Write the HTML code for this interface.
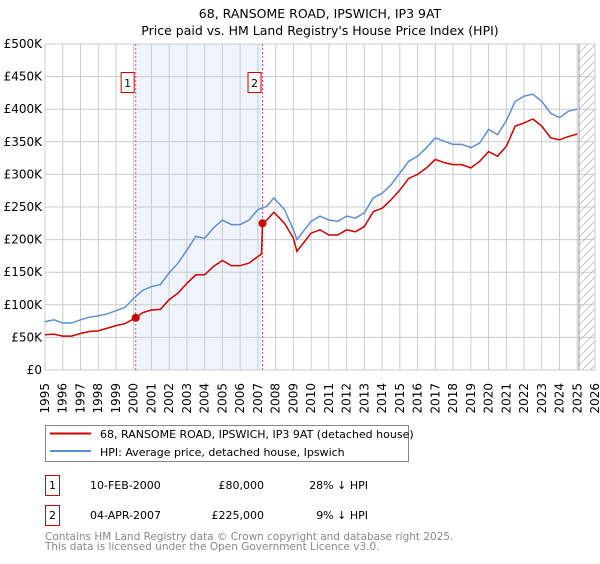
<!DOCTYPE html>
<html><head><meta charset="utf-8"><style>
body{margin:0;background:#fff;font-family:"DejaVu Sans","Liberation Sans",sans-serif;}
svg text{font-family:"DejaVu Sans","Liberation Sans",sans-serif;}
</style></head><body>
<svg id="c" width="600" height="560" xmlns="http://www.w3.org/2000/svg">
<text x="320" y="18" font-size="12.5" text-anchor="middle">68, RANSOME ROAD, IPSWICH, IP3 9AT</text>
<text x="320" y="35" font-size="12.5" text-anchor="middle">Price paid vs. HM Land Registry's House Price Index (HPI)</text>
<g id="plot"></g>
<g>
<rect x="45.5" y="425.5" width="363" height="36" fill="#fff" stroke="#888"/>
<line x1="50" y1="433.5" x2="91" y2="433.5" stroke="#cc0000" stroke-width="2"/>
<text x="100" y="438" font-size="11">68, RANSOME ROAD, IPSWICH, IP3 9AT (detached house)</text>
<line x1="50" y1="451" x2="91" y2="451" stroke="#5b8fd4" stroke-width="2"/>
<text x="100" y="456" font-size="11">HPI: Average price, detached house, Ipswich</text>
</g>
<g font-size="11">
<rect x="45.5" y="475.5" width="14" height="20" fill="#fff" stroke="#cc0000"/>
<text x="52.5" y="489" text-anchor="middle">1</text>
<text x="90" y="489">10-FEB-2000</text>
<text x="264" y="489" text-anchor="end">£80,000</text>
<text x="368" y="489" text-anchor="end">28% ↓ HPI</text>
<rect x="45.5" y="505.5" width="14" height="20" fill="#fff" stroke="#cc0000"/>
<text x="52.5" y="519" text-anchor="middle">2</text>
<text x="90" y="519">04-APR-2007</text>
<text x="264" y="519" text-anchor="end">£225,000</text>
<text x="368" y="519" text-anchor="end">9% ↓ HPI</text>
</g>
<text x="45" y="540" font-size="10.5" fill="#888">Contains HM Land Registry data © Crown copyright and database right 2025.</text>
<text x="45" y="550" font-size="10.5" fill="#888">This data is licensed under the Open Government Licence v3.0.</text>
</svg>
<script>
const hpiYears=[1995,1995.5,1996,1996.5,1997,1997.5,1998,1998.5,1999,1999.5,2000,2000.5,2001,2001.5,2002,2002.5,2003,2003.5,2004,2004.5,2005,2005.5,2006,2006.5,2007,2007.5,2007.9,2008.5,2009,2009.2,2010,2010.5,2011,2011.5,2012,2012.5,2013,2013.5,2014,2014.5,2015,2015.5,2016,2016.5,2017,2017.5,2018,2018.5,2019,2019.5,2020,2020.5,2021,2021.5,2022,2022.5,2023,2023.5,2024,2024.5,2025];
const hpiValues=[74,77,72,72,77,81,83,86,91,96,110,122,128,131,149,164,184,205,202,218,230,223,223,230,246,251,264,246,215,200,228,236,230,228,236,233,241,264,271,284,302,320,328,341,356,351,346,346,341,348,369,361,382,412,420,423,412,394,387,397,400];
const priceYears=[1995,1995.5,1996,1996.5,1997,1997.5,1998,1998.5,1999,1999.5,2000.11,2000.5,2001,2001.5,2002,2002.5,2003,2003.5,2004,2004.5,2005,2005.5,2006,2006.5,2007.2,2007.26,2007.5,2007.9,2008.5,2009,2009.2,2010,2010.5,2011,2011.5,2012,2012.5,2013,2013.5,2014,2014.5,2015,2015.5,2016,2016.5,2017,2017.5,2018,2018.5,2019,2019.5,2020,2020.5,2021,2021.5,2022,2022.5,2023,2023.5,2024,2024.5,2025];
const priceValues=[54,55,52,52,56,59,60,64,68,71,80,88,92,93,108,118,133,146,146,159,168,160,160,164,178,225,230,242,225,202,182,210,215,207,207,215,212,220,243,248,261,276,294,300,310,323,318,315,315,310,320,335,328,343,374,379,385,374,356,353,358,362];
const saleYears=[2000.11,2007.26];
const saleValues=[80,225];
const saleLabels=["1","2"];
const yTicks=[0,50,100,150,200,250,300,350,400,450,500];
const yTickLabels=["£0","£50K","£100K","£150K","£200K","£250K","£300K","£350K","£400K","£450K","£500K"];
const xTicks=[1995,1996,1997,1998,1999,2000,2001,2002,2003,2004,2005,2006,2007,2008,2009,2010,2011,2012,2013,2014,2015,2016,2017,2018,2019,2020,2021,2022,2023,2024,2025,2026];

const L=45,R=595,T=44,B=370;
const X=y=>L+(y-1995)*(R-L)/31;
const Y=v=>B-v*(B-T)/500;
const NS="http://www.w3.org/2000/svg";
const g=document.getElementById('plot');
function mk(t,a){const e=document.createElementNS(NS,t);for(const k in a)e.setAttribute(k,a[k]);g.appendChild(e);return e;}

let e=mk('rect',{x:X(saleYears[0]),y:T,width:X(saleYears[1])-X(saleYears[0]),height:B-T,fill:'#eef3fc'});


const pat=document.createElementNS(NS,'pattern');
pat.setAttribute('id','hatch');pat.setAttribute('width','8');pat.setAttribute('height','8');pat.setAttribute('patternUnits','userSpaceOnUse');
pat.innerHTML='<path d="M0,8 L8,0 M-2,2 L2,-2 M6,10 L10,6" stroke="#bbb" stroke-width="0.8"/>';
g.appendChild(pat);
xTicks.forEach(t=>{
  e=mk('line',{x1:X(t),y1:T,x2:X(t),y2:B,stroke:'#ccc','stroke-width':1});
  
  
  const tx=X(t)+4, ty=B+13;
  e=mk('text',{x:tx,y:ty,'font-size':12,'text-anchor':'end',transform:'rotate(-90,'+tx+','+ty+')'});
  e.textContent=t;
  
  
});
yTicks.forEach((t,i)=>{
  e=mk('line',{x1:L,y1:Y(t),x2:R,y2:Y(t),stroke:'#ccc','stroke-width':1});
  
  
  e=mk('text',{x:L-3,y:Y(t)+4,'font-size':12,'text-anchor':'end'});
  e.textContent=yTickLabels[i];
  
  
});
const fx=X(2025.1);
e=mk('rect',{x:fx,y:T,width:R-fx,height:B-T,fill:'url(#hatch)'});


e=mk('line',{x1:fx,y1:T,x2:fx,y2:B,stroke:'#999','stroke-width':1});


e=mk('rect',{x:L,y:T,width:R-L,height:B-T,fill:'none',stroke:'#ccc'});


saleYears.forEach((s,i)=>{
  e=mk('line',{x1:X(s),y1:T,x2:X(s),y2:B,stroke:'#ee5555','stroke-width':1,'stroke-dasharray':'2,2'});
  
  
  e=mk('rect',{x:X(s)-14.5,y:72.5,width:13,height:20,fill:'#fff',stroke:'#cc0000'});
  
  
  e=mk('text',{x:X(s)-8,y:87,'font-size':11,'text-anchor':'middle'});
  e.textContent=saleLabels[i];
  
  
});
e=mk('polyline',{points:hpiYears.map((y,i)=>X(y)+','+Y(hpiValues[i])).join(' '),fill:'none',stroke:'#5b8fd4','stroke-width':1.5});


e=mk('polyline',{points:priceYears.map((y,i)=>X(y)+','+Y(priceValues[i])).join(' '),fill:'none',stroke:'#cc0000','stroke-width':1.5});


saleYears.forEach((s,i)=>{
  e=mk('circle',{cx:X(s),cy:Y(saleValues[i]),r:4,fill:'#cc0000'});
  
  
});
</script>
</body></html>
